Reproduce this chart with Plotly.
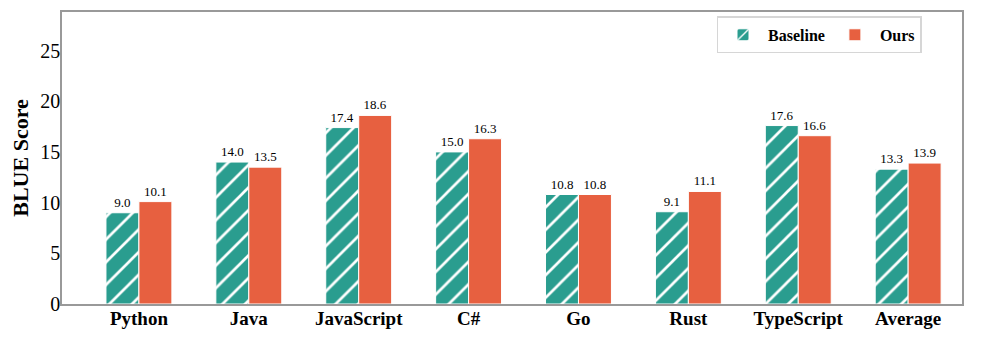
import plotly.graph_objects as go

categories = ["Python", "Java", "JavaScript", "C#", "Go", "Rust", "TypeScript", "Average"]
baseline = [9.0, 14.0, 17.4, 15.0, 10.8, 9.1, 17.6, 13.3]
ours = [10.1, 13.5, 18.6, 16.3, 10.8, 11.1, 16.6, 13.9]
y_ticks = [0, 5, 10, 15, 20, 25]

FONT = "Liberation Serif"
fig = go.Figure()
fig.add_trace(go.Bar(
    name="<b>Baseline</b>", x=categories, y=baseline,
    text=[f"{v:.1f}" for v in baseline], textposition="outside",
    textfont=dict(family=FONT, size=13, color="black"),
    marker=dict(color="#2a9d8f", line=dict(color="white", width=1),
                pattern=dict(shape="/", fgcolor="white", fgopacity=1, bgcolor="#2a9d8f", size=16, solidity=0.17)),
    cliponaxis=False,
))
fig.add_trace(go.Bar(
    name="<b>Ours</b>", x=categories, y=ours,
    text=[f"{v:.1f}" for v in ours], textposition="outside",
    textfont=dict(family=FONT, size=13, color="black"),
    marker=dict(color="#e76040", line=dict(color="white", width=1)),
    cliponaxis=False,
))
fig.update_layout(
    width=981, height=324,
    margin=dict(l=54, r=27, t=4, b=28, autoexpand=False),
    plot_bgcolor="white", paper_bgcolor="white",
    barmode="group", bargap=0.4, bargroupgap=0.0,
    font=dict(family=FONT, color="black"),
    showlegend=True,
    legend=dict(orientation="h", x=0.955, xanchor="right", y=0.985, yanchor="top",
                bordercolor="#d6d6d6", borderwidth=1.5, bgcolor="white",
                font=dict(family=FONT, size=16, color="black"),
                traceorder="normal", itemwidth=40, tracegroupgap=0),
    xaxis=dict(range=[-0.7, 7.49], showline=True, linecolor="#999999", linewidth=1.5, mirror=True,
               ticks="", tickfont=dict(family=FONT, size=19, color="black"), automargin=False,
               ticklabelstandoff=-4,
               tickvals=list(range(len(categories))), ticktext=[f"<b>{c}</b>" for c in categories]),
    yaxis=dict(range=[0, 28.8], showline=True, linecolor="#999999", linewidth=1.5, mirror=True,
               showgrid=False, zeroline=False, tickvals=y_ticks, ticks="", automargin=False,
               ticklabelstandoff=-4,
               tickfont=dict(family=FONT, size=20, color="black"),
               title=dict(text="<b>BLUE Score</b>", font=dict(family=FONT, size=22, color="black"), standoff=12)),
)
fig.update_xaxes(type="category")
fig.write_html("out.html")
